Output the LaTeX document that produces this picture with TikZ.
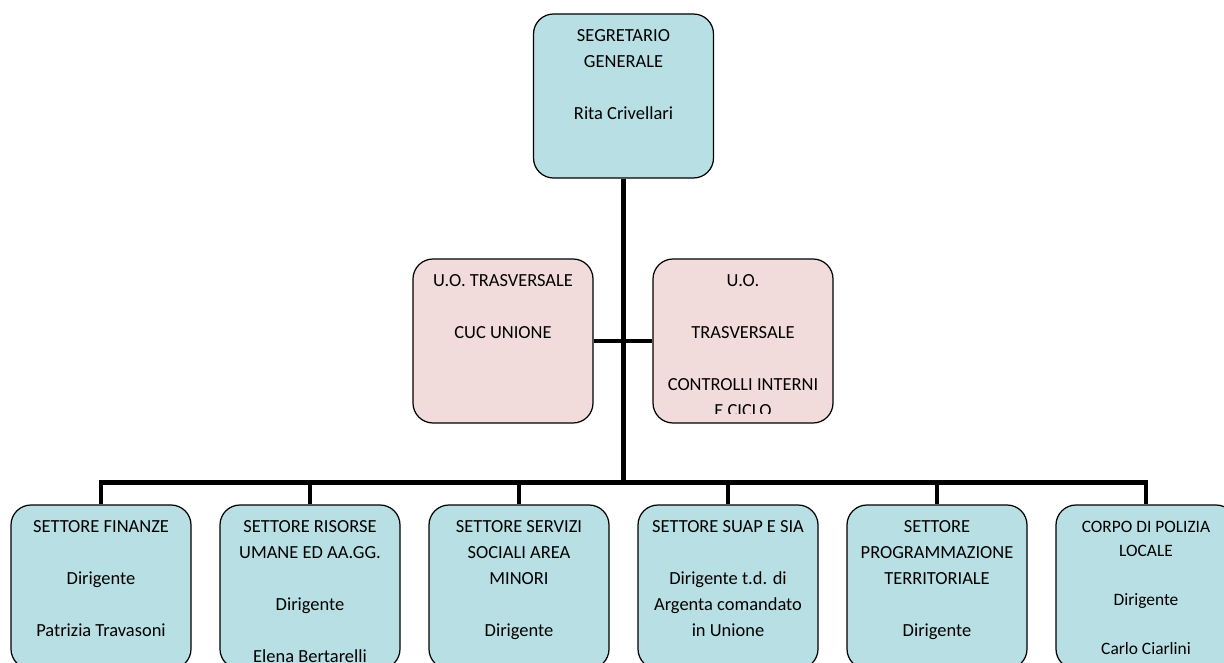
\documentclass[tikz,border=0pt]{standalone}
\usepackage{fontspec}
\setmainfont{Carlito}
\usetikzlibrary{positioning}

\definecolor{boxblue}{RGB}{184,223,227}
\definecolor{boxpink}{RGB}{242,220,219}

\tikzset{
	orgbox/.style={draw=black, line width=0.7pt, rounded corners=0.4cm,
		minimum width=3.6cm, minimum height=3.28cm, fill=boxblue},
	orgpink/.style={orgbox, fill=boxpink},
	boxtext/.style={inner sep=0pt, align=center,
		font=\fontsize{10.5}{14.8}\selectfont},
	link/.style={line width=2.8pt}
}

\begin{document}
\begin{tikzpicture}
	\clip (0,0) rectangle (24.48,13.24);

	% segretario
	\node[orgbox] (sg) at (12.47,11.32) {};
	\node[boxtext, below=0.32cm of sg.north] (sgtxt) {SEGRETARIO\\GENERALE\\[14.8pt]Rita Crivellari};

	% unita' trasversali
	\node[orgpink] (cuc) at (10.06,6.42) {};
	\node[boxtext, below=0.32cm of cuc.north] (cuctxt) {U.O. TRASVERSALE\\[14.8pt]CUC UNIONE};
	\node[orgpink] (ctrl) at (14.86,6.42) {};
	\begin{scope}
		\clip ([yshift=0.2cm]ctrl.south west) rectangle (ctrl.north east);
		\node[boxtext, below=0.32cm of ctrl.north] (ctrltxt) {U.O.\\[14.8pt]TRASVERSALE\\[14.8pt]CONTROLLI INTERNI\\E CICLO};
	\end{scope}

	% settori
	\node[orgbox] (fin) at (2.02,1.5) {};
	\node[boxtext, below=0.32cm of fin.north] (fintxt) {SETTORE FINANZE\\[14.8pt]Dirigente\\[14.8pt]Patrizia Travasoni};

	\node[orgbox] (hr) at (6.2,1.5) {};
	\node[boxtext, below=0.32cm of hr.north] (hrtxt) {SETTORE RISORSE\\UMANE ED AA.GG.\\[14.8pt]Dirigente\\[14.8pt]Elena Bertarelli};

	\node[orgbox] (soc) at (10.38,1.5) {};
	\node[boxtext, below=0.32cm of soc.north] (soctxt) {SETTORE SERVIZI\\SOCIALI AREA\\MINORI\\[14.8pt]Dirigente};

	\node[orgbox] (suap) at (14.56,1.5) {};
	\node[boxtext, below=0.32cm of suap.north] (suaptxt) {SETTORE SUAP E SIA\\[14.8pt]Dirigente t.d. di\\Argenta comandato\\in Unione};

	\node[orgbox] (prog) at (18.74,1.5) {};
	\node[boxtext, below=0.32cm of prog.north] (progtxt) {SETTORE\\PROGRAMMAZIONE\\TERRITORIALE\\[14.8pt]Dirigente};

	\node[orgbox] (pol) at (22.92,1.5) {};
	\node[boxtext, font=\fontsize{9.9}{13.9}\selectfont, below=0.32cm of pol.north] (poltxt) {CORPO DI POLIZIA\\LOCALE\\[13.9pt]Dirigente\\[13.9pt]Carlo Ciarlini};

	% collegamenti
	\coordinate (bus) at ([yshift=0.44cm]fin.north);
	\draw[link] (sg.south) -- (sg.south |- bus);
	\draw[link] (cuc.east) -- (ctrl.west);
	\draw[link] (fin.north) -- (bus) -| (pol.north);
	\foreach \s in {hr,soc,suap,prog}
	{
		\draw[link] (\s.north) -- (\s.north |- bus);
	};
\end{tikzpicture}
\end{document}
